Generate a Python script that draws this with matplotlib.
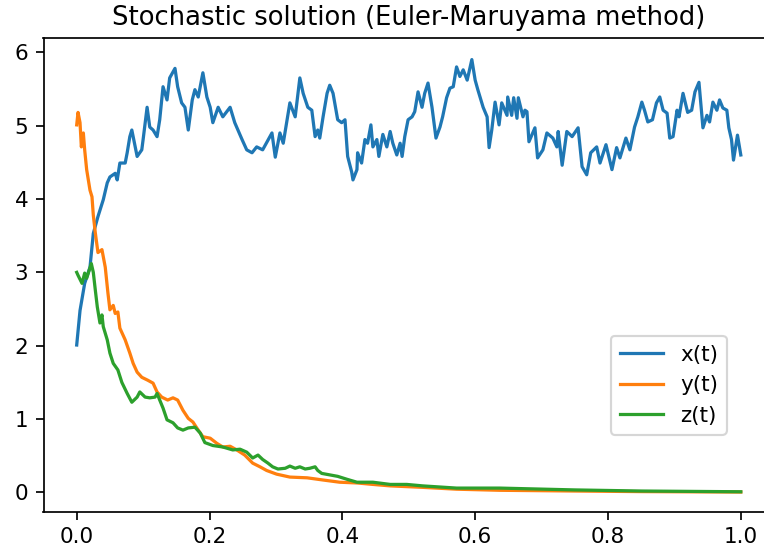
import matplotlib
matplotlib.use("Agg")
import matplotlib.pyplot as plt

# x(t)
t_x = [0.000, 0.005, 0.012, 0.020, 0.025, 0.032, 0.040, 0.046, 0.050, 0.058, 0.061, 0.065, 0.073, 0.076,
       0.080, 0.083, 0.091, 0.098, 0.100, 0.106, 0.110, 0.115, 0.121, 0.125, 0.130, 0.136, 0.140, 0.148,
       0.152, 0.158, 0.163, 0.168, 0.174, 0.178, 0.183, 0.190, 0.196, 0.201, 0.205, 0.213, 0.220, 0.231,
       0.238, 0.249, 0.256, 0.264, 0.271, 0.280, 0.294, 0.299, 0.306, 0.311, 0.321, 0.329, 0.336, 0.341,
       0.348, 0.354, 0.359, 0.363, 0.366, 0.371, 0.377, 0.381, 0.386, 0.393, 0.399, 0.404, 0.408, 0.414,
       0.416, 0.422, 0.423, 0.429, 0.434, 0.438, 0.443, 0.446, 0.452, 0.455, 0.461, 0.467, 0.472, 0.476,
       0.482, 0.487, 0.490, 0.494, 0.499, 0.505, 0.509, 0.514, 0.520, 0.524, 0.529, 0.535, 0.541, 0.547,
       0.551, 0.557, 0.562, 0.567, 0.572, 0.577, 0.582, 0.588, 0.595, 0.600, 0.604, 0.612, 0.618, 0.621,
       0.625, 0.630, 0.636, 0.640, 0.648, 0.649, 0.655, 0.658, 0.663, 0.665, 0.672, 0.675, 0.678, 0.681,
       0.690, 0.694, 0.702, 0.708, 0.717, 0.723, 0.725, 0.731, 0.738, 0.746, 0.755, 0.761, 0.768, 0.774,
       0.783, 0.788, 0.797, 0.806, 0.813, 0.818, 0.827, 0.833, 0.840, 0.845, 0.851, 0.855, 0.860, 0.867,
       0.873, 0.878, 0.883, 0.889, 0.893, 0.898, 0.904, 0.907, 0.913, 0.920, 0.926, 0.931, 0.937, 0.943,
       0.949, 0.953, 0.958, 0.964, 0.968, 0.973, 0.979, 0.982, 0.986, 0.989, 0.995, 1.000]
x_vals = [2.01, 2.48, 2.85, 3.07, 3.53, 3.76, 3.99, 4.22, 4.30, 4.35, 4.26, 4.49, 4.49, 4.63,
          4.85, 4.94, 4.58, 4.67, 4.81, 5.25, 4.98, 4.94, 4.85, 5.08, 5.53, 5.35, 5.65, 5.78,
          5.53, 5.31, 5.25, 4.94, 5.35, 5.49, 5.39, 5.72, 5.39, 5.25, 5.04, 5.25, 5.12, 5.25,
          5.04, 4.81, 4.67, 4.63, 4.71, 4.67, 4.90, 4.57, 4.90, 4.76, 5.31, 5.12, 5.65, 5.44,
          5.25, 5.21, 4.85, 4.94, 4.83, 5.12, 5.44, 5.55, 5.44, 5.08, 5.04, 5.08, 4.58, 4.37,
          4.26, 4.40, 4.63, 4.49, 4.81, 4.76, 5.01, 4.71, 4.81, 4.58, 4.88, 4.71, 4.92, 4.76,
          4.60, 4.76, 4.58, 4.85, 5.08, 5.12, 5.19, 5.46, 5.25, 5.44, 5.58, 5.25, 4.83, 4.98,
          5.12, 5.38, 5.51, 5.53, 5.80, 5.67, 5.76, 5.62, 5.90, 5.62, 5.49, 5.25, 5.12, 4.70,
          4.94, 5.32, 5.01, 5.31, 5.14, 5.39, 5.14, 5.38, 5.10, 5.38, 5.12, 5.21, 5.19, 4.78,
          4.97, 4.56, 4.67, 4.90, 4.83, 4.71, 4.92, 4.46, 4.92, 4.85, 4.97, 4.44, 4.33, 4.63,
          4.71, 4.49, 4.74, 4.40, 4.70, 4.56, 4.83, 4.67, 4.98, 5.12, 5.32, 5.21, 5.05, 5.08,
          5.31, 5.39, 5.21, 5.17, 4.83, 4.85, 5.21, 5.12, 5.44, 5.18, 5.21, 5.46, 5.59, 4.97,
          5.14, 5.05, 5.32, 5.21, 5.35, 5.24, 5.21, 4.97, 4.81, 4.53, 4.87, 4.60]

# y(t)
t_y = [0.000, 0.002, 0.005, 0.007, 0.010, 0.012, 0.015, 0.020, 0.023, 0.025, 0.028, 0.032, 0.038, 0.043,
       0.047, 0.050, 0.055, 0.058, 0.062, 0.065, 0.073, 0.080, 0.085, 0.091, 0.098, 0.107, 0.115, 0.121,
       0.128, 0.137, 0.145, 0.152, 0.160, 0.168, 0.175, 0.183, 0.190, 0.201, 0.211, 0.220, 0.231, 0.241,
       0.253, 0.265, 0.276, 0.286, 0.301, 0.321, 0.347, 0.371, 0.396, 0.422, 0.446, 0.472, 0.521, 0.572,
       0.637, 0.750, 0.850, 1.000]
y_vals = [5.01, 5.18, 5.04, 4.71, 4.90, 4.67, 4.40, 4.12, 4.03, 3.78, 3.54, 3.27, 3.31, 3.07,
          2.72, 2.49, 2.55, 2.44, 2.46, 2.24, 2.08, 1.90, 1.76, 1.64, 1.57, 1.53, 1.49, 1.37,
          1.30, 1.26, 1.29, 1.26, 1.12, 1.01, 0.96, 0.85, 0.76, 0.74, 0.67, 0.62, 0.63, 0.58,
          0.51, 0.40, 0.35, 0.30, 0.25, 0.21, 0.20, 0.17, 0.14, 0.13, 0.11, 0.09, 0.07, 0.045,
          0.03, 0.02, 0.012, 0.006]

# z(t)
t_z = [0.000, 0.002, 0.008, 0.012, 0.015, 0.022, 0.025, 0.028, 0.031, 0.035, 0.038, 0.040, 0.046, 0.050,
       0.055, 0.062, 0.068, 0.076, 0.083, 0.091, 0.095, 0.103, 0.110, 0.118, 0.121, 0.125, 0.130, 0.136,
       0.145, 0.152, 0.160, 0.168, 0.178, 0.186, 0.193, 0.205, 0.220, 0.235, 0.246, 0.256, 0.265, 0.273,
       0.280, 0.288, 0.295, 0.303, 0.314, 0.321, 0.329, 0.336, 0.344, 0.351, 0.359, 0.363, 0.369, 0.381,
       0.393, 0.407, 0.422, 0.446, 0.472, 0.497, 0.521, 0.572, 0.637, 0.750, 0.850, 1.000]
z_vals = [3.00, 2.96, 2.85, 2.99, 2.92, 3.12, 3.00, 2.76, 2.53, 2.31, 2.42, 2.26, 2.08, 1.90,
          1.76, 1.67, 1.50, 1.35, 1.23, 1.30, 1.37, 1.30, 1.29, 1.30, 1.35, 1.26, 1.15, 0.99,
          0.95, 0.88, 0.85, 0.88, 0.89, 0.81, 0.68, 0.64, 0.62, 0.58, 0.59, 0.55, 0.47, 0.51,
          0.45, 0.40, 0.35, 0.32, 0.33, 0.36, 0.33, 0.35, 0.32, 0.33, 0.35, 0.30, 0.26, 0.24,
          0.22, 0.18, 0.14, 0.14, 0.11, 0.11, 0.09, 0.06, 0.06, 0.035, 0.02, 0.01]

labels = ["x(t)", "y(t)", "z(t)"]
x_ticks = [0.0, 0.2, 0.4, 0.6, 0.8, 1.0]
y_ticks = [0, 1, 2, 3, 4, 5, 6]

DPI = 155
fig = plt.figure(figsize=(764 / DPI, 554 / DPI), dpi=DPI)
ax = fig.add_axes([43.5 / 764, 41.7 / 554, 730.5 / 764, 474.0 / 554])

ax.plot(t_x, x_vals, color="#1f77b4", lw=1.5, label=labels[0])
ax.plot(t_y, y_vals, color="#ff7f0e", lw=1.5, label=labels[1])
ax.plot(t_z, z_vals, color="#2ca02c", lw=1.5, label=labels[2])

ax.set_xlim(-0.05, 1.05)
ax.set_ylim(-0.27, 6.19)
ax.set_xticks(x_ticks)
ax.set_yticks(y_ticks)
ax.set_title("Stochastic solution (Euler-Maruyama method)")
ax.legend(loc="center right", bbox_to_anchor=(0.935, 0.268), borderaxespad=0)

fig.savefig("out.png", dpi=DPI)
